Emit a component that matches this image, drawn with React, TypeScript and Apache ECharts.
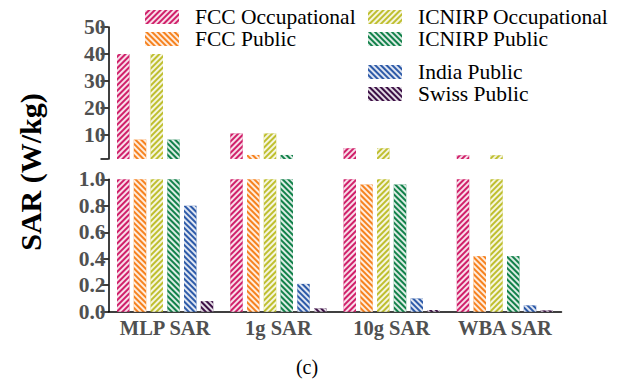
import React, { useEffect, useRef } from "react";
import * as echarts from "echarts";

const categories = ["MLP SAR", "1g SAR", "10g SAR", "WBA SAR"];
const seriesNames = [
  "FCC Occupational",
  "FCC Public",
  "ICNIRP Occupational",
  "ICNIRP Public",
  "India Public",
  "Swiss Public",
];
const fccOccupational = [40, 10.5, 5, 2.4];
const fccPublic = [8.2, 2.5, 0.96, 0.42];
const icnirpOccupational = [40, 10.5, 5, 2.4];
const icnirpPublic = [8.2, 2.5, 0.96, 0.42];
const indiaPublic = [0.8, 0.21, 0.1, 0.048];
const swissPublic = [0.08, 0.025, 0.013, 0.01];
const upperTickLabels = [10, 20, 30, 40, 50];
const upperTicks = [1, 10, 20, 30, 40, 50];

const seriesValues = [
  fccOccupational,
  fccPublic,
  icnirpOccupational,
  icnirpPublic,
  indiaPublic,
  swissPublic,
];
const colors = ["#d0206a", "#f6821f", "#bfbf2f", "#12814a", "#2d5aa8", "#3c0f45"];
const stripeRight = [true, false, true, false, false, false];

const FONT = "'Liberation Serif', 'Times New Roman', serif";

export default function App() {
  const ref = useRef<HTMLDivElement>(null);
  useEffect(() => {
    if (!ref.current) return;
    const chart = echarts.init(ref.current, null, { renderer: "svg" });
    const decal = (right: boolean) => ({
      symbol: "rect",
      symbolSize: 1,
      dashArrayX: [1, 0],
      dashArrayY: [2, 2],
      rotation: right ? -Math.PI / 4 : Math.PI / 4,
      color: "rgba(255,255,255,0.85)",
    });
    const series: any[] = [];
    seriesValues.forEach((vals, i) => {
      const style = { color: colors[i], decal: decal(stripeRight[i]) };
      series.push({
        type: "bar",
        name: seriesNames[i],
        xAxisIndex: 0,
        yAxisIndex: 0,
        data: vals.map((v) => (v > 1 ? v : "-")),
        barWidth: 12.5,
        barGap: "34%",
        itemStyle: style,
        clip: true,
      });
      series.push({
        type: "bar",
        name: seriesNames[i],
        xAxisIndex: 1,
        yAxisIndex: 1,
        data: vals.map((v) => Math.min(v, 1)),
        barWidth: 12.5,
        barGap: "34%",
        itemStyle: style,
        clip: true,
      });
    });
    const axisLabelStyle = {
      fontFamily: FONT,
      fontWeight: "bold",
      fontSize: 21.5,
      color: "#505050",
      margin: 3,
    };
    const legendText = {
      fontFamily: FONT,
      fontSize: 21.5,
      color: "#000",
      lineHeight: 20,
      padding: [0, 0, 0, 11],
    };
    const legendCommon = {
      orient: "vertical",
      itemWidth: 34,
      itemHeight: 14,
      itemGap: 0,
      padding: 0,
      textStyle: legendText,
      selectedMode: false,
      icon: "rect",
    };
    chart.setOption({
      animation: false,
      textStyle: { fontFamily: FONT },
      grid: [
        { left: 108.5, top: 27, width: 453, height: 132 },
        { left: 108.5, top: 179.3, width: 453, height: 132.4 },
      ],
      xAxis: [
        {
          type: "category",
          gridIndex: 0,
          data: categories,
          show: false,
        },
        {
          type: "category",
          gridIndex: 1,
          data: categories,
          axisLine: { lineStyle: { color: "#000", width: 1.5 } },
          axisTick: {
            alignWithLabel: true,
            interval: 0,
            length: 8,
            lineStyle: { color: "#000", width: 1.5 },
          },
          axisLabel: { ...axisLabelStyle, fontSize: 20.5, margin: 6, interval: 0 },
        },
      ],
      yAxis: [
        {
          type: "value",
          gridIndex: 0,
          min: 1,
          max: 50,
          axisLine: { show: true, lineStyle: { color: "#000", width: 1.5 } },
          axisTick: {
            show: true,
            length: 8,
            customValues: upperTicks,
            lineStyle: { color: "#000", width: 1.5 },
          },
          axisLabel: { ...axisLabelStyle, customValues: upperTickLabels },
          splitLine: { show: false },
        },
        {
          type: "value",
          gridIndex: 1,
          min: 0,
          max: 1,
          interval: 0.2,
          axisLine: { show: true, lineStyle: { color: "#000", width: 1.5 } },
          axisTick: { show: true, length: 8, lineStyle: { color: "#000", width: 1.5 } },
          axisLabel: { ...axisLabelStyle, formatter: (v: number) => v.toFixed(1) },
          splitLine: { show: false },
        },
      ],
      legend: [
        { ...legendCommon, left: 145, top: 6, data: seriesNames.slice(0, 2) },
        { ...legendCommon, left: 368, top: 6, data: seriesNames.slice(2, 4) },
        { ...legendCommon, left: 368, top: 61, data: seriesNames.slice(4, 6) },
      ],
      graphic: [
        {
          type: "text",
          x: 30,
          y: 172,
          rotation: Math.PI / 2,
          style: {
            text: "SAR (W/kg)",
            fontFamily: FONT,
            fontWeight: "bold",
            fontSize: 30,
            fill: "#000",
            align: "center",
            verticalAlign: "middle",
          },
        },
        {
          type: "text",
          x: 307,
          y: 367,
          style: {
            text: "(c)",
            fontFamily: FONT,
            fontSize: 20,
            fill: "#000",
            align: "center",
            verticalAlign: "middle",
          },
        },
      ],
      series,
    });
    return () => chart.dispose();
  }, []);
  return (
    <div
      ref={ref}
      style={{ position: "fixed", left: 0, top: 0, width: 631, height: 389, background: "#fff" }}
    />
  );
}
